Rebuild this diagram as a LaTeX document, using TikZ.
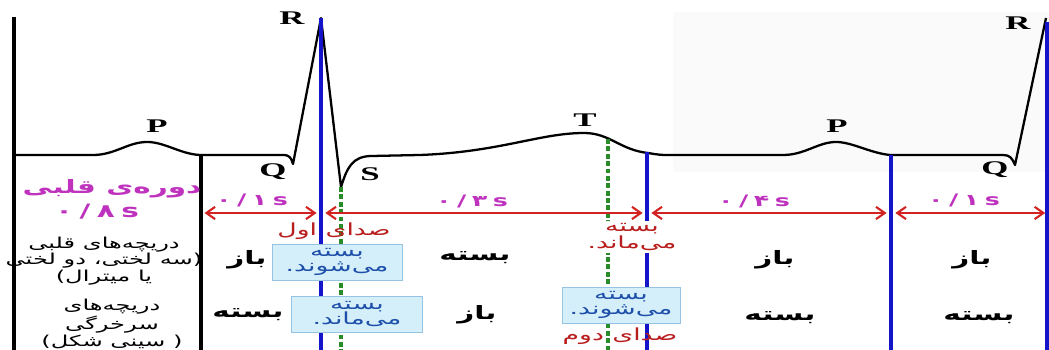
\documentclass[tikz,border=0pt]{standalone}
\usepackage{fontspec}
\setmainfont{Liberation Serif}
\newfontfamily\wideserif[FakeStretch=1.8]{Liberation Serif}
\newfontfamily\fa[Script=Arabic, FakeStretch=1.6]{DejaVu Sans}
\TeXXeTstate=1
\usetikzlibrary{arrows.meta}

\definecolor{ecgblue}{RGB}{20,20,200}
\definecolor{ecggreen}{RGB}{40,140,40}
\definecolor{ecgred}{RGB}{210,35,35}
\definecolor{ecgdark}{RGB}{185,30,30}
\definecolor{ecgpink}{RGB}{190,50,190}
\definecolor{boxfill}{RGB}{212,238,250}
\definecolor{boxline}{RGB}{150,195,225}
\definecolor{boxtext}{RGB}{30,80,170}

\newcommand{\gap}{\hspace{0.35em}}

\tikzset{
  ecgline/.style={line width=1.3pt, line join=round},
  wall/.style={line width=2.3pt},
  marker/.style={ecgblue, line width=2.5pt},
  sound/.style={ecggreen, line width=2pt, dash pattern=on 2.8pt off 1.4pt},
  timearrow/.style={ecgred, line width=1.2pt, {Straight Barb[length=5pt,width=7pt]}-{Straight Barb[length=5pt,width=7pt]}},
  peak/.style={font=\wideserif\fontsize{11}{11}\selectfont\bfseries, inner sep=0pt},
  period/.style={ecgpink, font=\fa\fontsize{9}{10}\selectfont\bfseries, inner sep=0pt},
  valve/.style={font=\fa\fontsize{10.5}{12}\selectfont\bfseries, inner sep=0pt},
  note/.style={align=center, inner sep=0pt},
  statebox/.style={draw=boxline, fill=boxfill, text=boxtext, align=center,
    font=\fa\fontsize{9.5}{8.8}\selectfont, minimum height=0.72cm, inner sep=1pt},
  heartsound/.style={ecgdark, align=center, font=\fa\fontsize{9.5}{7}\selectfont, inner sep=0pt},
}

\begin{document}
\begin{tikzpicture}[x=0.02cm, y=-0.02cm]
  \useasboundingbox (0,0) rectangle (1049,350);
  \fill[black!2] (673,12) rectangle (1049,172);

  % ECG wave points
  \coordinate (p1) at (147,142);
  \coordinate (q1) at (293,164);
  \coordinate (r1) at (321,18);
  \coordinate (s1) at (341,187);
  \coordinate (t1) at (584,133);
  \coordinate (p2) at (836,142);
  \coordinate (q2) at (1015,165);
  \coordinate (r2) at (1046,18);

  \draw[ecgline] (14,155) -- (93,155) .. controls (115,155) and (128,142) .. (p1)
    .. controls (165,142) and (180,154) .. (200,155) -- (283,155)
    .. controls (290,155) and (291,158) .. (q1) -- (r1) -- (s1)
    .. controls (347,168) and (352,156) .. (372,156) -- (420,155)
    .. controls (500,152) and (540,133) .. (t1)
    .. controls (610,133) and (620,150) .. (648,153)
    .. controls (660,155) .. (673,155) -- (783,155)
    .. controls (805,155) and (818,142) .. (p2)
    .. controls (852,142) and (870,153) .. (890,155) -- (1003,155)
    .. controls (1010,155) and (1012,158) .. (q2) -- (r2);

  % walls of the cycle column
  \draw[wall] (14,17) -- (14,350);
  \draw[wall] (201,155) -- (201,350);

  % event lines
  \draw[marker] (r1) -- (321,350);
  \draw[sound] (s1) -- (341,350);
  \draw[sound] (608,139) -- (608,350);
  \draw[marker] (647,152) -- (647,350);
  \draw[marker] (891,155) -- (891,350);
  \draw[marker] (1047,22) -- (1047,350);

  % wave labels
  \node[peak] (p1lab) at (157,126) {P};
  \node[peak] (q1lab) at (273,172) {Q};
  \node[peak] (r1lab) at (292,18) {R};
  \node[peak] (s1lab) at (370,174) {S};
  \node[peak] (t1lab) at (585,120) {T};
  \node[peak] (p2lab) at (837,126) {P};
  \node[peak] (q2lab) at (995,170) {Q};
  \node[peak] (r2lab) at (1018,23) {R};

  % durations
  \coordinate (k2m) at (201,213);
  \coordinate (b1m) at (321,213);
  \coordinate (b2m) at (647,213);
  \coordinate (b3m) at (891,213);
  \coordinate (b4m) at (1047,213);
  \draw[timearrow] ([xshift=2pt]k2m) -- ([xshift=-2.5pt]b1m);
  \draw[timearrow] ([xshift=2.5pt]b1m) -- ([xshift=-2.5pt]b2m);
  \draw[timearrow] ([xshift=2.5pt]b2m) -- ([xshift=-2.5pt]b3m);
  \draw[timearrow] ([xshift=2.5pt]b3m) -- ([xshift=-1pt]b4m);
  \node[period] (d1) at (252,200) {۰\gap/\gap۱\gap s};
  \node[period] (d2) at (472,201) {۰\gap/\gap۳\gap s};
  \node[period] (d3) at (754,201) {۰\gap/\gap۴\gap s};
  \node[period] (d4) at (964,200) {۰\gap/\gap۱\gap s};

  % cycle column
  \node[ecgpink, font=\fa\fontsize{10.5}{12}\selectfont\bfseries, inner sep=0pt] (cycle) at (112,189) {\beginR دوره‌ی قلبی\endR};
  \node[ecgpink, font=\fa\fontsize{10.5}{12}\selectfont\bfseries, inner sep=0pt] (cyclet) at (97,212) {۰\gap/\gap۸\gap s};
  \node[note, font=\fa\fontsize{8.6}{9.2}\selectfont] (avvalve) at (104,261) {\beginR دریچه‌های قلبی\endR\\\beginR (سه لختی، دو لختی\endR\\\beginR یا میترال)\endR};
  \node[note, font=\fa\fontsize{8.6}{8.4}\selectfont] (slvalve) at (112,324) {\beginR دریچه‌های\endR\\\beginR سرخرگی\endR\\\beginR ( سینی شکل)\endR};

  % valve states
  \node[valve] (av1) at (247,260) {\beginR باز\endR};
  \node[valve] (sl1) at (248,315) {\beginR بسته\endR};
  \node[valve] (av2) at (475,258) {\beginR بسته\endR};
  \node[valve] (sl2) at (477,315) {\beginR باز\endR};
  \node[valve] (av3) at (775,260) {\beginR باز\endR};
  \node[valve] (sl3) at (780,318) {\beginR بسته\endR};
  \node[valve] (av4) at (972,260) {\beginR باز\endR};
  \node[valve] (sl4) at (979,318) {\beginR بسته\endR};

  % heart sounds and closing notes
  \node[heartsound] (first) at (334,231) {\beginR صدای اول\endR};
  \node[statebox, minimum width=2.6cm] (close1) at (337,262) {\beginR بسته\endR\\\beginR می‌شوند.\endR};
  \node[statebox, minimum width=2.62cm] (stay1) at (357,314) {\beginR بسته\endR\\\beginR می‌ماند.\endR};
  \node[heartsound, fill=white, inner sep=1.5pt] (stay2) at (632,237) {\beginR بسته\endR\\\beginR می‌ماند.\endR};
  \node[statebox, minimum width=2.36cm] (close2) at (621,305) {\beginR بسته\endR\\\beginR می‌شوند.\endR};
  \node[heartsound] (second) at (620,336) {\beginR صدای دوم\endR};
\end{tikzpicture}
\end{document}
